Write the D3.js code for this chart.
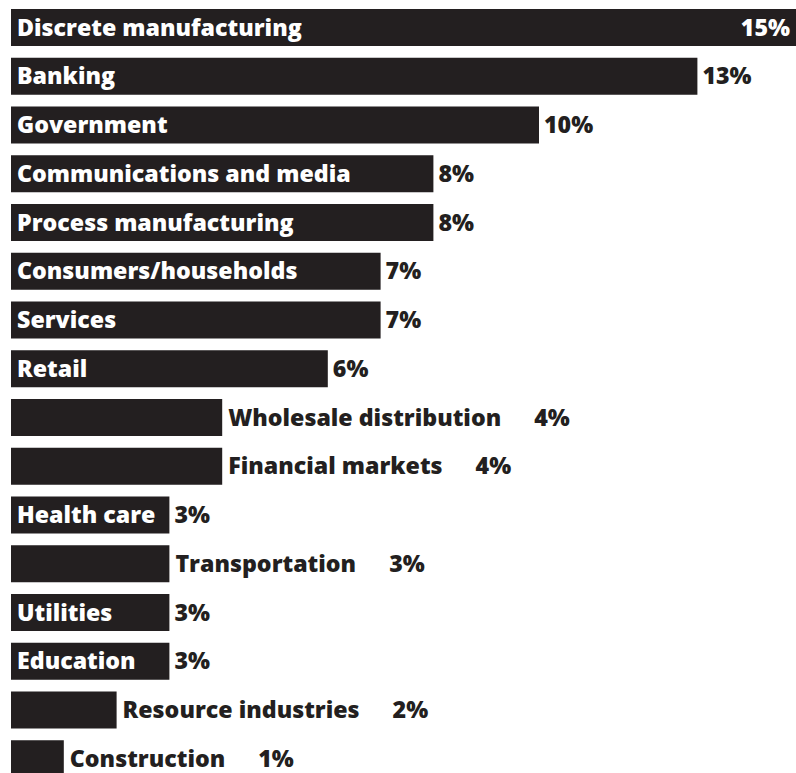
<!DOCTYPE html>
<html>
<head>
<meta charset="utf-8">
<script src="https://cdn.jsdelivr.net/npm/d3@7"></script>
<style>
  html, body { margin: 0; padding: 0; background: #fff; }
  svg { display: block; }
  text { font-family: "Open Sans", "DejaVu Sans", sans-serif; font-weight: 800; }
</style>
</head>
<body>
<svg id="chart" width="796" height="773"></svg>
<script>
// Share of spending by industry (%)
const industries = [
  "Discrete manufacturing", "Banking", "Government", "Communications and media",
  "Process manufacturing", "Consumers/households", "Services", "Retail",
  "Wholesale distribution", "Financial markets", "Health care", "Transportation",
  "Utilities", "Education", "Resource industries", "Construction"
];
const shares = [15, 13, 10, 8, 8, 7, 7, 6, 4, 4, 3, 3, 3, 3, 2, 1];

const W = 796, H = 773;
const ink = "#231f20";
const left = 11;
const step = 48.75, barH = 37;

const svg = d3.select("#chart");

const x = d3.scaleLinear().domain([0, 15]).range([left, left + 792]);
const y = d3.scaleBand()
  .domain(industries)
  .range([9, 9 + step * (industries.length - 1) + barH])
  .paddingInner(1 - barH / step)
  .paddingOuter(0);

const fontSize = 23.2;
const capShift = fontSize * 0.355;

const rows = svg.selectAll("g.row")
  .data(industries.map((name, i) => ({ name, value: shares[i] })))
  .join("g")
  .attr("class", "row");

rows.append("rect")
  .attr("x", x(0))
  .attr("y", d => y(d.name))
  .attr("width", d => x(d.value) - x(0))
  .attr("height", y.bandwidth())
  .attr("fill", ink);

rows.each(function(d) {
  const g = d3.select(this);
  const barEnd = x(d.value);
  const cy = y(d.name) + y.bandwidth() / 2 + capShift;

  const label = g.append("text")
    .attr("y", cy)
    .attr("font-size", fontSize)
    .text(d.name);
  const lw = label.node().getComputedTextLength();
  const inside = lw + 12 <= barEnd - x(0);

  if (inside) {
    label.attr("x", x(0) + 6).attr("fill", "#fff");
    const val = g.append("text")
      .attr("y", cy)
      .attr("font-size", fontSize)
      .text(d.value + "%");
    const vw = val.node().getComputedTextLength();
    if (barEnd + 5 + vw > W - 2) {
      val.attr("x", W - 6).attr("text-anchor", "end").attr("fill", "#fff");
    } else {
      val.attr("x", barEnd + 5).attr("fill", ink);
    }
  } else {
    label.attr("x", barEnd + 6).attr("fill", ink);
    g.append("text")
      .attr("x", barEnd + 6 + lw + 33)
      .attr("y", cy)
      .attr("font-size", fontSize)
      .attr("fill", ink)
      .text(d.value + "%");
  }
});
</script>
</body>
</html>
